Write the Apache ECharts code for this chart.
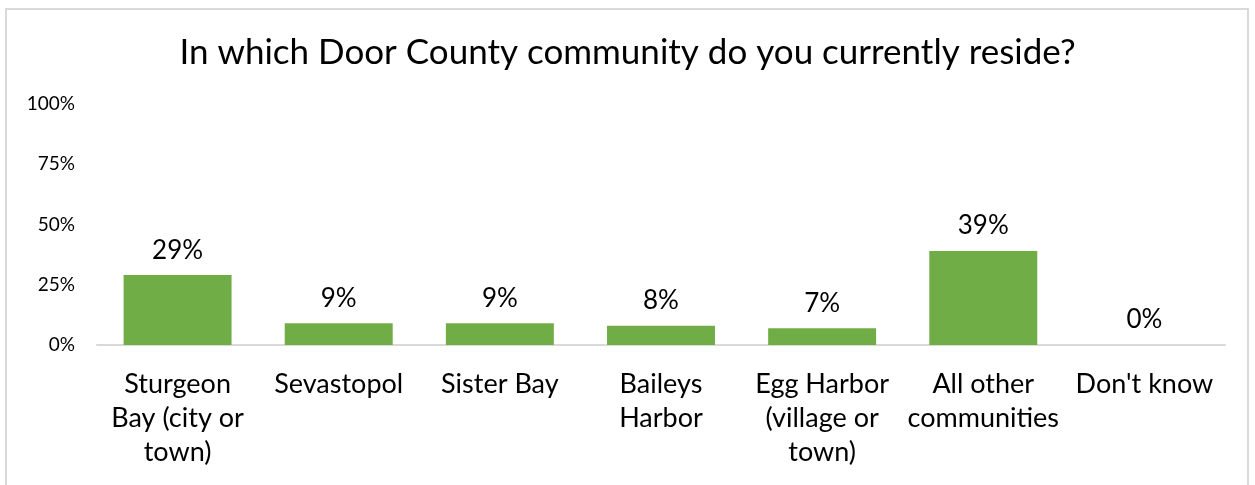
<!DOCTYPE html>
<html>
<head>
<meta charset="utf-8">
<script src="https://cdn.jsdelivr.net/npm/echarts@6/dist/echarts.min.js"></script>
<style>
    body { margin: 0; background: #fff; }
    #chart { width: 1255px; height: 485px; }
    #frame {
        position: absolute; left: 5px; top: 8px; width: 1240px; height: 490px;
        border: 2px solid #d9d9d9; pointer-events: none;
    }
</style>
</head>
<body>
<div id="chart"></div>
<div id="frame"></div>
<script>
let communities = ['Sturgeon\nBay (city or\ntown)', 'Sevastopol', 'Sister Bay', 'Baileys\nHarbor',
    'Egg Harbor\n(village or\ntown)', 'All other\ncommunities', "Don't know"];
let shares = [29, 9, 9, 8, 7, 39, 0];
let font = 'Lato, "Noto Sans", sans-serif';

let chart = echarts.init(document.getElementById('chart'));
chart.setOption({
    animation: false,
    title: {
        text: 'In which Door County community do you currently reside?',
        left: 'center',
        top: 30,
        textStyle: { fontFamily: font, fontSize: 35, fontWeight: 'normal', color: '#000' }
    },
    grid: { left: 97, right: 30, top: 104, bottom: 140 },
    xAxis: {
        type: 'category',
        data: communities,
        axisLine: { lineStyle: { color: '#d9d9d9', width: 2 } },
        axisTick: { show: false },
        axisLabel: {
            interval: 0, margin: 22, color: '#000',
            fontFamily: font, fontSize: 27, lineHeight: 34
        }
    },
    yAxis: {
        type: 'value',
        min: 0, max: 100, interval: 25,
        splitLine: { show: false },
        axisLabel: {
            margin: 22, color: '#000', fontFamily: font, fontSize: 19,
            formatter: '{value}%'
        }
    },
    series: [{
        type: 'bar',
        data: shares,
        barWidth: '67%',
        itemStyle: { color: '#70ad47' },
        label: {
            show: true, position: 'top', distance: 12,
            color: '#000', fontFamily: font, fontSize: 26,
            formatter: '{c}%'
        }
    }]
});
</script>
</body>
</html>
